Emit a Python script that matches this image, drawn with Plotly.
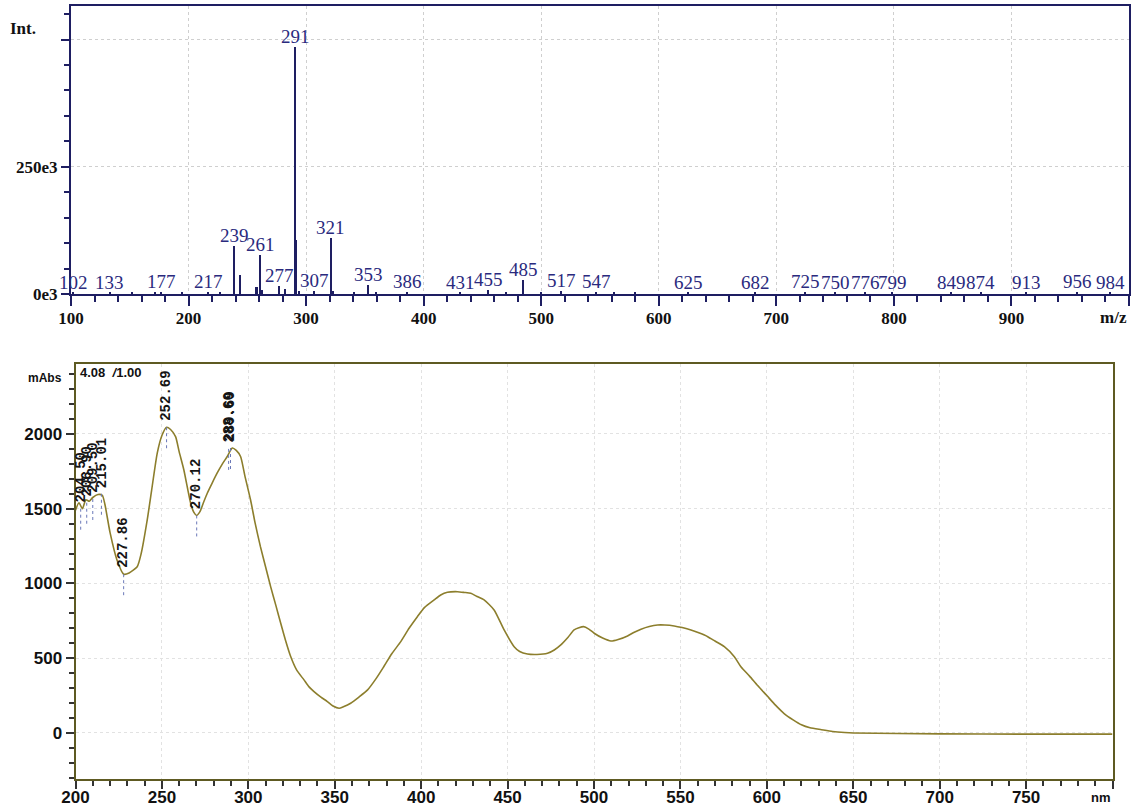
import plotly.graph_objects as go

# ---------------- Mass spectrum (top) ----------------
ms_mz = [102, 133, 152, 172, 177, 195, 217, 227, 239, 244, 258, 261, 263, 277, 282,
         291, 292, 294, 307, 321, 323, 341, 353, 360, 386, 431, 455, 470, 485, 500,
         517, 547, 562, 580, 625, 682, 725, 750, 776, 799, 849, 874, 913, 956, 984]
ms_int = [2000, 2500, 3000, 2000, 4000, 2000, 3000, 2000, 94000, 38000, 14000, 77000, 8000, 16000, 10000,
          486000, 106000, 6000, 5000, 111000, 6000, 3000, 18000, 3000, 4000, 2000, 8000, 3000, 27000, 3000,
          5000, 3000, 3000, 2000, 2000, 2000, 4000, 2000, 2000, 2000, 2000, 2000, 2000, 4000, 2000]
ms_label_mz = [102, 133, 177, 217, 239, 261, 277, 291, 307, 321, 353, 386, 431, 455, 485,
               517, 547, 625, 682, 725, 750, 776, 799, 849, 874, 913, 956, 984]
ms_xticks = [100, 200, 300, 400, 500, 600, 700, 800, 900, 1000]
ms_xticktext = ["100", "200", "300", "400", "500", "600", "700", "800", "900", ""]
ms_xtitle = "m/z"
ms_yticks = [0, 250000, 500000]
ms_yticktext = ["0e3", "250e3", ""]
ms_ytitle = "Int."

# ---------------- UV-Vis spectrum (bottom) ----------------
uv_nm = [200, 202, 204, 206, 208, 210, 213, 215.5, 217, 220, 224, 227.9, 231, 235.7, 238, 241.5,
         244, 247.3, 250, 252.7, 255, 257.9, 260, 262.7, 266.6, 268.5, 270.1, 272, 274, 276.3,
         279, 282, 285, 287.8, 290.7, 293, 295.5, 298, 301.3, 304, 307, 310, 312.9, 316, 318.7,
         321.5, 324.5, 328, 332.2, 335, 338, 342, 345.7, 349, 352.5, 355, 359.2, 364, 369, 374,
         378.5, 383, 388.2, 393, 397.8, 402, 407.5, 411.3, 415.2, 421, 425, 428.7, 432, 436.4,
         442.2, 448, 453.8, 457, 461.5, 467, 473.1, 477, 480.8, 485, 488.5, 494, 497, 500.1, 505,
         509.8, 514, 519.4, 523, 527.2, 532, 536.8, 541, 546.4, 551, 556.1, 561, 565.8, 570,
         575.4, 581.2, 585, 590, 594.7, 600, 605, 610, 615.2, 620, 625, 631.6, 638, 645, 650,
         700, 750, 800]
uv_abs = [1490, 1540, 1500, 1560, 1550, 1575, 1595, 1590, 1530, 1340, 1157, 1062, 1070, 1112, 1200, 1425,
          1620, 1872, 1990, 2045, 2030, 1982, 1880, 1759, 1538, 1475, 1455, 1480, 1540, 1605,
          1670, 1739, 1800, 1849, 1906, 1890, 1849, 1720, 1558, 1400, 1246, 1110, 979, 850, 735,
          620, 511, 420, 355, 310, 277, 240, 210, 180, 165, 175, 199, 240, 288, 365,
          446, 530, 611, 700, 778, 840, 890, 923, 941, 945, 940, 934, 915, 890,
          823, 689, 577, 545, 528, 525, 533, 555, 589, 640, 689, 711, 695, 667, 635,
          615, 625, 649, 672, 694, 712, 722, 722, 716, 705, 689, 668, 644, 615,
          577, 510, 443, 380, 317, 250, 186, 130, 88, 55, 35, 22, 10, 3, 0,
          -6, -8, -8]
uv_peak_nm = [203.0, 206.5, 210.0, 215.0, 227.86, 252.69, 270.12, 288.6, 289.69]
uv_peak_abs = [1500, 1540, 1565, 1600, 1062, 2045, 1455, 1900, 1906]
uv_peak_text = ["204.50", "206.90", "209.50", "215.01", "227.86", "252.69", "270.12", "288.60", "289.69"]
uv_xticks = [200, 250, 300, 350, 400, 450, 500, 550, 600, 650, 700, 750, 800]
uv_xticktext = ["200", "250", "300", "350", "400", "450", "500", "550", "600", "650", "700", "750", ""]
uv_xtitle = "nm"
uv_yticks = [0, 500, 1000, 1500, 2000]
uv_ytitle = "mAbs"
uv_header = "4.08  <i>/</i>1.00"

NAVY = "#1e1e62"
LABEL_NAVY = "#2a2a7e"
OLIVE = "#5e5a22"
CURVE = "#8c7e2c"
GRID = "#cfcfcf"
W, H = 1134, 809
NARROW = "Liberation Sans Narrow, Liberation Sans, Arial"

fig = go.Figure()

# top: stick spectrum
fig.add_trace(go.Bar(x=ms_mz, y=ms_int, width=1.3, marker=dict(color=NAVY, line=dict(width=0)),
                     xaxis="x", yaxis="y", showlegend=False))

# bottom: absorbance curve
fig.add_trace(go.Scatter(x=uv_nm, y=uv_abs, mode="lines",
                         line=dict(color=CURVE, width=1.6, shape="spline", smoothing=0.6),
                         xaxis="x2", yaxis="y2", showlegend=False))

# dotted drop lines under UV peak labels
dx, dy = [], []
for p, v in zip(uv_peak_nm, uv_peak_abs):
    dx += [p, p, None]
    dy += [v, v - 150, None]
fig.add_trace(go.Scatter(x=dx, y=dy, mode="lines", line=dict(color="#6a78b8", width=1, dash="dot"),
                         xaxis="x2", yaxis="y2", showlegend=False))

annotations = []
ms_lookup = dict(zip(ms_mz, ms_int))
for m in ms_label_mz:
    annotations.append(dict(x=m, y=ms_lookup[m], xref="x", yref="y", text=str(m), showarrow=False,
                            xanchor="center", yanchor="bottom", yshift=-2,
                            font=dict(family="Liberation Serif", size=19, color=LABEL_NAVY)))
for p, v, t in zip(uv_peak_nm, uv_peak_abs, uv_peak_text):
    annotations.append(dict(x=p, y=v, xref="x2", yref="y2", text=t, showarrow=False, textangle=-90,
                            xanchor="center", yanchor="bottom", yshift=4,
                            font=dict(family="Liberation Mono", size=14, color="#151515", weight="bold")))

# axis end labels (in place of the last tick label)
annotations.append(dict(x=ms_xticks[-1], y=1 - 318 / H, xref="x", yref="paper", text=ms_xtitle, showarrow=False,
                        xanchor="right", yanchor="middle",
                        font=dict(family="Liberation Serif", size=17, color="#111", weight="bold")))
annotations.append(dict(x=uv_xticks[-1], y=1 - 797 / H, xref="x2", yref="paper", text=uv_xtitle, showarrow=False,
                        xanchor="right", yanchor="middle",
                        font=dict(family="Liberation Sans", size=13, color="#111", weight="bold")))

page_labels = [
    (8, 28, ms_ytitle, dict(family="Liberation Serif", size=17, color="#111", weight="bold")),
    (26, 378, uv_ytitle, dict(family="Liberation Sans", size=12, color="#111", weight="bold")),
    (78, 373, uv_header, dict(family="Liberation Sans", size=13, color="#111", weight="bold")),
]
for px, py, t, f in page_labels:
    annotations.append(dict(x=px / W, y=1 - py / H, xref="paper", yref="paper", text=t, showarrow=False,
                            xanchor="left", yanchor="middle", font=f))

fig.update_layout(
    width=W, height=H,
    margin=dict(l=0, r=0, t=0, b=0, autoexpand=False),
    paper_bgcolor="white", plot_bgcolor="white",
    bargap=0,
    annotations=annotations,
    xaxis=dict(domain=[71 / W, 1129 / W], range=[100, 1000], anchor="y", automargin=False,
               tickmode="array", tickvals=ms_xticks, ticktext=ms_xticktext,
               ticks="outside", ticklen=10, tickwidth=2, tickcolor=NAVY,
               showline=True, linecolor=NAVY, linewidth=2, mirror=True,
               showgrid=True, gridcolor=GRID, griddash="dot", gridwidth=1, zeroline=False,
               tickfont=dict(family="Liberation Serif", size=17, color="#111", weight="bold"),
               ticklabelstandoff=-2,
               minor=dict(tickmode="linear", tick0=100, dtick=20, ticks="outside", ticklen=6, tickwidth=1.5,
                          tickcolor=NAVY, showgrid=False)),
    yaxis=dict(domain=[1 - 294 / H, 1 - 6 / H], range=[0, 566000], anchor="x", automargin=False,
               tickmode="array", tickvals=ms_yticks, ticktext=ms_yticktext,
               ticks="outside", ticklen=8, tickwidth=2, tickcolor=NAVY,
               showline=True, linecolor=NAVY, linewidth=2, mirror=True,
               showgrid=True, gridcolor=GRID, griddash="dot", gridwidth=1, zeroline=False,
               tickfont=dict(family="Liberation Serif", size=17, color="#111", weight="bold"),
               minor=dict(tickmode="linear", tick0=0, dtick=50000, ticks="outside", ticklen=5, tickwidth=1.5,
                          tickcolor=NAVY, showgrid=False)),
    xaxis2=dict(domain=[75.5 / W, 1112.5 / W], range=[200, 800], anchor="y2", automargin=False,
                tickmode="array", tickvals=uv_xticks, ticktext=uv_xticktext,
                ticks="outside", ticklen=8, tickwidth=2, tickcolor="#333",
                showline=True, linecolor=OLIVE, linewidth=2, mirror=True,
                showgrid=True, gridcolor="#e2e2e2", griddash="dot", gridwidth=1, zeroline=False,
                tickfont=dict(family=NARROW, size=17, color="#111", weight="bold"),
                ticklabelstandoff=-6,
                minor=dict(tickmode="linear", tick0=200, dtick=10, ticks="outside", ticklen=5, tickwidth=1.5,
                           tickcolor="#333", showgrid=False)),
    yaxis2=dict(domain=[1 - 779 / H, 1 - 364 / H], range=[-308, 2468], anchor="x2", automargin=False,
                tickmode="array", tickvals=uv_yticks,
                ticks="outside", ticklen=8, tickwidth=2, tickcolor="#333",
                showline=True, linecolor=OLIVE, linewidth=2, mirror=True,
                showgrid=True, gridcolor="#e2e2e2", griddash="dot", gridwidth=1, zeroline=False,
                tickfont=dict(family=NARROW, size=17, color="#111", weight="bold"),
                minor=dict(tickmode="linear", tick0=0, dtick=100, ticks="outside", ticklen=5, tickwidth=1.5,
                           tickcolor="#333", showgrid=False)),
)

fig.write_html("out.html", config={"displayModeBar": False},
               post_script="document.body.style.margin='0';")
